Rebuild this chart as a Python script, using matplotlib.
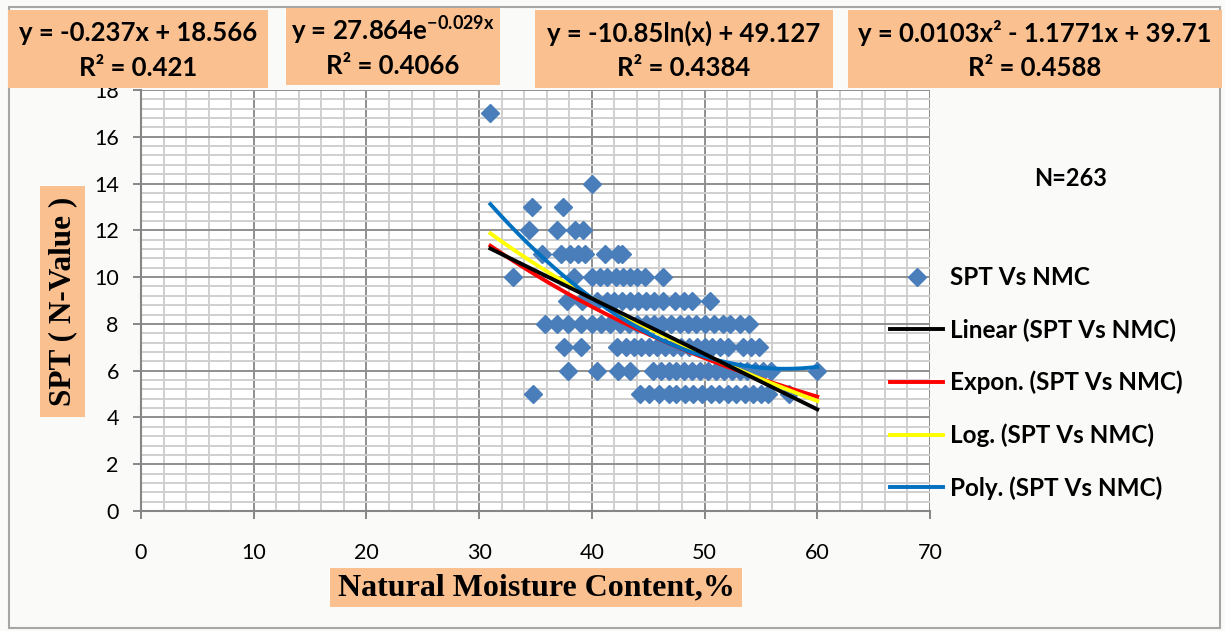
import matplotlib
matplotlib.use("Agg")
import numpy as np
import matplotlib.pyplot as plt
from matplotlib.patches import Rectangle
from matplotlib.ticker import MultipleLocator

plt.rcParams['mathtext.fontset'] = 'custom'
plt.rcParams['mathtext.rm'] = 'Lato:bold'
plt.rcParams['mathtext.it'] = 'Lato:bold'
plt.rcParams['mathtext.bf'] = 'Lato:bold'

# ---- data: SPT N-value against natural moisture content (%) ----
nmc_17 = [31.0]
nmc_14 = [40.0]
nmc_13 = [34.7, 37.4]
nmc_12 = [34.4, 36.9, 38.5, 39.2]
nmc_11 = [35.6, 37.3, 38.1, 38.8, 39.4, 41.2, 42.3, 42.7]
nmc_10 = [33.0, 38.4, 40.0, 40.7, 41.3, 42.1, 42.8, 43.4, 44.0, 44.7, 46.3]
nmc_9 = [37.8, 39.1, 40.5, 41.3, 42.0, 42.7, 43.4, 44.1, 44.8, 45.5, 46.3,
         47.4, 48.2, 48.9, 50.5]
nmc_8 = [35.8, 36.9, 37.9, 39.0, 40.0, 40.8, 41.6, 42.5, 43.3, 44.0, 44.8,
         45.5, 46.2, 47.0, 47.8, 48.5, 49.2, 50.0, 50.8, 51.6, 52.3, 53.1, 53.9]
nmc_7 = [37.5, 39.0, 42.2, 43.0, 43.7, 44.4, 45.1, 45.8, 46.5, 47.2, 47.9,
         48.6, 49.3, 50.0, 50.7, 51.4, 52.1, 53.4, 54.1, 54.8]
nmc_6 = [37.9, 40.5, 42.3, 43.4, 45.4, 46.1, 46.8, 47.5, 48.2, 48.9, 49.6,
         50.3, 51.0, 51.7, 52.4, 53.1, 53.8, 54.5, 55.2, 55.9, 60.0]
nmc_5 = [34.8, 44.3, 45.1, 46.0, 46.8, 47.5, 48.3, 49.0, 49.8, 50.6, 51.3,
         52.1, 52.8, 53.6, 54.3, 55.0, 55.6, 57.5]

spt_rows = {17: nmc_17, 14: nmc_14, 13: nmc_13, 12: nmc_12, 11: nmc_11,
            10: nmc_10, 9: nmc_9, 8: nmc_8, 7: nmc_7, 6: nmc_6, 5: nmc_5}

# trendline coefficients and R² values
lin_coef = [-0.237, 18.566]          # y = a x + b
exp_coef = [27.864, -0.029]          # y = a e^(b x)
log_coef = [-10.85, 49.127]          # y = a ln(x) + b
poly_coef = [0.0103, -1.1771, 39.71] # y = a x² + b x + c
r2_values = [0.421, 0.4066, 0.4384, 0.4588]
fit_range = [31.0, 60.0]
n_samples = 263

nmc = np.concatenate([np.array(v) for v in spt_rows.values()])
spt = np.concatenate([np.full(len(v), k, dtype=float) for k, v in spt_rows.items()])

W, H = 1225, 631
fig = plt.figure(figsize=(W / 100, H / 100), dpi=100, facecolor='#fafaf8')


def fx(x):
    return x / W


def fy(y):
    return 1 - y / H


# outer chart border
fig.patches.append(Rectangle((fx(9), fy(628)), fx(1220) - fx(9), fy(7) - fy(628),
                             transform=fig.transFigure, fill=False,
                             edgecolor='#a6a6a6', lw=1.5, zorder=0))

ax = fig.add_axes([fx(141), fy(511), fx(930) - fx(141), fy(90) - fy(511)])
ax.set_facecolor('white')
ax.set_xlim(0, 70)
ax.set_ylim(0, 18)
ax.xaxis.set_major_locator(MultipleLocator(10))
ax.xaxis.set_minor_locator(MultipleLocator(2))
ax.yaxis.set_major_locator(MultipleLocator(2))
ax.yaxis.set_minor_locator(MultipleLocator(0.4))
ax.grid(which='minor', color='#cfcfcf', lw=1.4, zorder=0)
ax.grid(which='major', color='#8f8f8f', lw=1.4, zorder=0)
ax.set_axisbelow(True)
for s in ['top', 'right']:
    ax.spines[s].set_visible(False)
for s in ['left', 'bottom']:
    ax.spines[s].set_color('#868686')
    ax.spines[s].set_linewidth(1.5)
ax.tick_params(which='major', direction='out', length=6, width=1.4,
               color='#868686', labelsize=15.5, pad=10)
ax.tick_params(which='minor', length=0)
ax.tick_params(axis='x', pad=17)
for lab in ax.get_xticklabels() + ax.get_yticklabels():
    lab.set_fontfamily('Lato')

ax.plot(nmc, spt, 'D', ls='none', color='#4a7ebb', ms=9.5, mec='#4a7ebb',
        zorder=3, label='SPT Vs NMC', clip_on=False)

xf = np.linspace(fit_range[0], fit_range[1], 300)
y_lin = lin_coef[0] * xf + lin_coef[1]
y_exp = exp_coef[0] * np.exp(exp_coef[1] * xf)
y_log = log_coef[0] * np.log(xf) + log_coef[1]
y_poly = poly_coef[0] * xf ** 2 + poly_coef[1] * xf + poly_coef[2]

lw = 2.8
l_lin, = ax.plot(xf, y_lin, color='black', lw=lw, zorder=7,
                 label='Linear (SPT Vs NMC)')
l_exp, = ax.plot(xf, y_exp, color='#ff0000', lw=lw, zorder=4,
                 label='Expon. (SPT Vs NMC)')
l_log, = ax.plot(xf, y_log, color='#ffff00', lw=lw, zorder=5,
                 label='Log. (SPT Vs NMC)')
l_poly, = ax.plot(xf, y_poly, color='#0070c0', lw=lw, zorder=6,
                  label='Poly. (SPT Vs NMC)')

handles = [ax.lines[0], l_lin, l_exp, l_log, l_poly]
leg = fig.legend(handles=handles, loc='center left',
                 bbox_to_anchor=(fx(890), fy(383)), frameon=False,
                 prop={'family': 'Lato', 'weight': 'bold', 'size': 17.5},
                 handlelength=2.2, handletextpad=0.25, labelspacing=1.2,
                 borderpad=0, borderaxespad=0, numpoints=1)

fig.text(fx(1071), fy(178), f'N={n_samples}', ha='center', va='center',
         family='Lato', weight='bold', size=17)

# equation boxes
orange = '#fac090'
boxes = [(8, 10, 268, 88), (286, 8, 500, 85), (535, 10, 833, 88), (848, 10, 1222, 88)]
eq_lines = [
    f'y = {lin_coef[0]}x + {lin_coef[1]}',
    f'y = {exp_coef[0]}e' + r'$^{\mathbf{' + f'{exp_coef[1]}x' + r'}}$',
    f'y = {log_coef[0]}ln(x) + {log_coef[1]}',
    f'y = {poly_coef[0]}x\u00b2 - {abs(poly_coef[1])}x + {poly_coef[2]}',
]
for (x0, y0, x1, y1), eq, r2 in zip(boxes, eq_lines, r2_values):
    fig.patches.append(Rectangle((fx(x0), fy(y1)), fx(x1) - fx(x0), fy(y0) - fy(y1),
                                 transform=fig.transFigure, facecolor=orange,
                                 edgecolor='none', zorder=1))
    cx = (x0 + x1) / 2
    fig.text(fx(cx), fy(y0 + 23), eq, ha='center', va='center',
             family='Lato', weight='bold', size=18.5, zorder=2)
    fig.text(fx(cx), fy(y0 + 58), f'R\u00b2 = {r2}', ha='center', va='center',
             family='Lato', weight='bold', size=18.5, zorder=2)

# axis title boxes
fig.patches.append(Rectangle((fx(40), fy(417)), fx(85) - fx(40), fy(186) - fy(417),
                             transform=fig.transFigure, facecolor=orange,
                             edgecolor='none', zorder=1))
fig.text(fx(63), fy(301), 'SPT ( N-Value )', rotation=90, ha='center', va='center',
         family='Liberation Serif', weight='bold', size=22.5, zorder=2)

fig.patches.append(Rectangle((fx(330), fy(607)), fx(742) - fx(330), fy(568) - fy(607),
                             transform=fig.transFigure, facecolor=orange,
                             edgecolor='none', zorder=1))
fig.text(fx(536), fy(588), 'Natural Moisture Content,%', ha='center', va='center',
         family='Liberation Serif', weight='bold', size=23, zorder=2)

fig.savefig('out.png', dpi=100, facecolor=fig.get_facecolor())
